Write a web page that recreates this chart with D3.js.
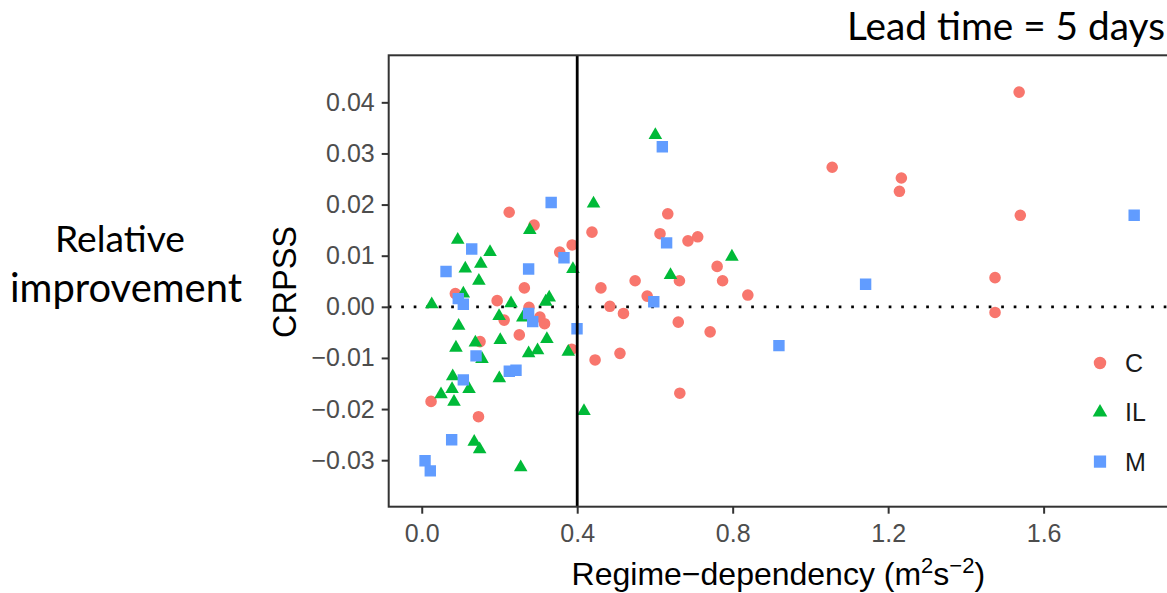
<!DOCTYPE html>
<html>
<head>
<meta charset="utf-8">
<script src="https://cdn.jsdelivr.net/npm/d3@7"></script>
<style>
  body { margin: 0; background: #fff; }
  svg { display: block; }
</style>
</head>
<body>
<div id="chart"></div>
<script>
// group C (red circles)
const cX = [0.225, 0.289, 0.438, 0.387, 0.355, 0.264, 0.461, 0.549, 0.0865, 0.194, 0.276, 0.484, 0.519,
    0.212, 0.304, 0.316, 0.251, 0.150, 0.386, 0.446, 0.510, 0.024, 0.146, 1.056, 0.633, 0.613, 0.685,
    0.710, 0.760, 0.663, 0.774, 0.580, 0.839, 0.660, 0.742, 0.664, 1.537, 1.234, 1.229, 1.540, 1.475, 1.475];
const cY = [0.0185, 0.0160, 0.0146, 0.0121, 0.0107, 0.0037, 0.0037, 0.0051, 0.0026, 0.0012, -0.0001, 0.0001, -0.0013,
    -0.0026, -0.0020, -0.0033, -0.0055, -0.0068, -0.0083, -0.0104, -0.0091, -0.0185, -0.0215, 0.0273, 0.0182, 0.0143, 0.0129,
    0.0137, 0.0079, 0.0051, 0.0051, 0.0021, 0.0023, -0.0030, -0.0049, -0.0169, 0.0420, 0.0252, 0.0226, 0.0179, 0.0057, -0.0011];

// group IL (green triangles)
const ilX = [0.278, 0.442, 0.389, 0.0926, 0.1757, 0.152, 0.112, 0.147, 0.107, 0.0257, 0.2297, 0.319, 0.328,
    0.199, 0.260, 0.095, 0.138, 0.202, 0.322, 0.088, 0.155, 0.275, 0.298, 0.377, 0.0797, 0.1996, 0.1217,
    0.078, 0.0496, 0.083, 0.4174, 0.135, 0.149, 0.2546, 0.601, 0.640, 0.798];
const ilY = [0.0150, 0.0202, 0.0074, 0.0131, 0.0107, 0.0084, 0.0075, 0.0051, 0.0026, 0.0005, 0.0007, 0.0010, 0.0018,
    -0.0018, -0.0021, -0.0037, -0.0070, -0.0065, -0.0063, -0.0080, -0.0102, -0.0091, -0.0085, -0.0088, -0.0136, -0.0140, -0.0161,
    -0.0161, -0.0171, -0.0186, -0.0204, -0.0264, -0.0279, -0.0314, 0.0336, 0.0062, 0.0098];

// group M (blue squares)
const mX = [0.333, 0.366, 0.1286, 0.0625, 0.275, 0.094, 0.107, 0.275, 0.2855, 0.3995, 0.1397, 0.2253,
    0.2425, 0.107, 0.077, 0.0085, 0.022, 0.619, 0.630, 0.597, 0.919, 1.142, 1.833];
const mY = [0.0204, 0.0096, 0.0113, 0.0069, 0.0074, 0.0016, 0.0005, -0.0013, -0.0029, -0.0043, -0.0096, -0.0126,
    -0.0124, -0.0143, -0.0260, -0.0301, -0.0321, 0.0313, 0.0125, 0.0010, -0.0076, 0.0044, 0.0179];

const groups = ["C", "IL", "M"];
const xTicks = [0.0, 0.4, 0.8, 1.2, 1.6];
const yTicks = [-0.03, -0.02, -0.01, 0.00, 0.01, 0.02, 0.03, 0.04];
const xDomain = [-0.085, 1.92];
const yDomain = [-0.0391, 0.0492];
const vLineAt = 0.4;

const width = 1167, height = 593;
const panel = {left: 388.7, right: 1168, top: 55.3, bottom: 506.7};

const colors = {C: "#F8766D", IL: "#00BA38", M: "#619CFF"};
const shapes = {C: d3.symbolCircle, IL: d3.symbolTriangle, M: d3.symbolSquare};
const sizes = {C: 106, IL: 80, M: 130};

const svg = d3.select("#chart").append("svg")
    .attr("width", width).attr("height", height);

const x = d3.scaleLinear().domain(xDomain).range([panel.left, panel.right]);
const y = d3.scaleLinear().domain(yDomain).range([panel.bottom, panel.top]);

const points = [];
cX.forEach((v, i) => points.push({g: "C", x: v, y: cY[i]}));
ilX.forEach((v, i) => points.push({g: "IL", x: v, y: ilY[i]}));
mX.forEach((v, i) => points.push({g: "M", x: v, y: mY[i]}));

const font = "'Liberation Sans', Arial, sans-serif";

// axes
const xAxis = svg.append("g")
    .attr("transform", `translate(0,${panel.bottom})`)
    .call(d3.axisBottom(x).tickValues(xTicks).tickFormat(d3.format(".1f")).tickSize(7).tickPadding(6));
const yAxis = svg.append("g")
    .attr("transform", `translate(${panel.left},0)`)
    .call(d3.axisLeft(y).tickValues(yTicks).tickFormat(d => d3.format(".2f")(d).replace("-", "\u2212")).tickSize(7).tickPadding(7));

[xAxis, yAxis].forEach(a => {
    a.select(".domain").remove();
    a.selectAll(".tick line").attr("stroke", "#333").attr("stroke-width", 2);
    a.selectAll(".tick text").attr("fill", "#4d4d4d")
        .style("font-family", font).style("font-size", "25px");
});
xAxis.selectAll(".tick text").attr("dy", "0.9em");

// reference lines
svg.append("line")
    .attr("x1", panel.left).attr("x2", panel.right)
    .attr("y1", y(0)).attr("y2", y(0))
    .attr("stroke", "#000").attr("stroke-width", 2.7)
    .attr("stroke-dasharray", "2.7 9.8");

svg.append("clipPath").attr("id", "clip")
    .append("rect").attr("x", panel.left).attr("y", panel.top)
    .attr("width", panel.right - panel.left).attr("height", panel.bottom - panel.top);

svg.append("g").attr("clip-path", "url(#clip)")
    .selectAll("path").data(points).join("path")
    .attr("transform", d => `translate(${x(d.x)},${y(d.y)})`)
    .attr("d", d => d3.symbol().type(shapes[d.g]).size(sizes[d.g])())
    .attr("fill", d => colors[d.g]);

svg.append("line")
    .attr("x1", x(vLineAt)).attr("x2", x(vLineAt))
    .attr("y1", panel.top).attr("y2", panel.bottom)
    .attr("stroke", "#000").attr("stroke-width", 2.8);

// panel border
svg.append("rect")
    .attr("x", panel.left).attr("y", panel.top)
    .attr("width", panel.right - panel.left).attr("height", panel.bottom - panel.top)
    .attr("fill", "none").attr("stroke", "#333").attr("stroke-width", 2);

// legend
const legend = svg.append("g").attr("transform", "translate(1100,363)");
groups.forEach((g, i) => {
    const row = legend.append("g").attr("transform", `translate(0,${i * 49.3})`);
    row.append("path")
        .attr("d", d3.symbol().type(shapes[g]).size(sizes[g] * 1.15)())
        .attr("fill", colors[g]);
    row.append("text")
        .attr("x", 25).attr("dy", "0.36em")
        .style("font-family", font).style("font-size", "25px")
        .attr("fill", "#1a1a1a")
        .text(g);
});

// axis titles
svg.append("text")
    .attr("transform", "translate(296,282) rotate(-90)")
    .attr("text-anchor", "middle")
    .style("font-family", font).style("font-size", "32.5px")
    .text("CRPSS");

const xt = svg.append("text")
    .attr("x", (panel.left + panel.right) / 2).attr("y", 585)
    .attr("text-anchor", "middle")
    .style("font-family", font).style("font-size", "32px");
xt.append("tspan").text("Regime\u2212dependency (m");
xt.append("tspan").attr("dy", -12).style("font-size", "22px").text("2");
xt.append("tspan").attr("dy", 12).text("s");
xt.append("tspan").attr("dy", -12).style("font-size", "22px").text("\u22122");
xt.append("tspan").attr("dy", 12).text(")");

// slide annotations, sized to fit the measured widths
function fitText(str, cx, base, targetW, anchor) {
    const t = svg.append("text")
        .attr("x", cx).attr("y", base)
        .attr("text-anchor", anchor)
        .style("font-family", "Lato, 'Open Sans', sans-serif")
        .style("font-size", "40px")
        .attr("fill", "#000")
        .text(str);
    const w = t.node().getComputedTextLength();
    t.style("font-size", (40 * targetW / w) + "px");
    return t;
}
fitText("Lead time = 5 days", 1165, 40, 318, "end");
fitText("Relative", 120, 251.7, 130, "middle");
fitText("improvement", 126, 302, 232, "middle");
</script>
</body>
</html>
